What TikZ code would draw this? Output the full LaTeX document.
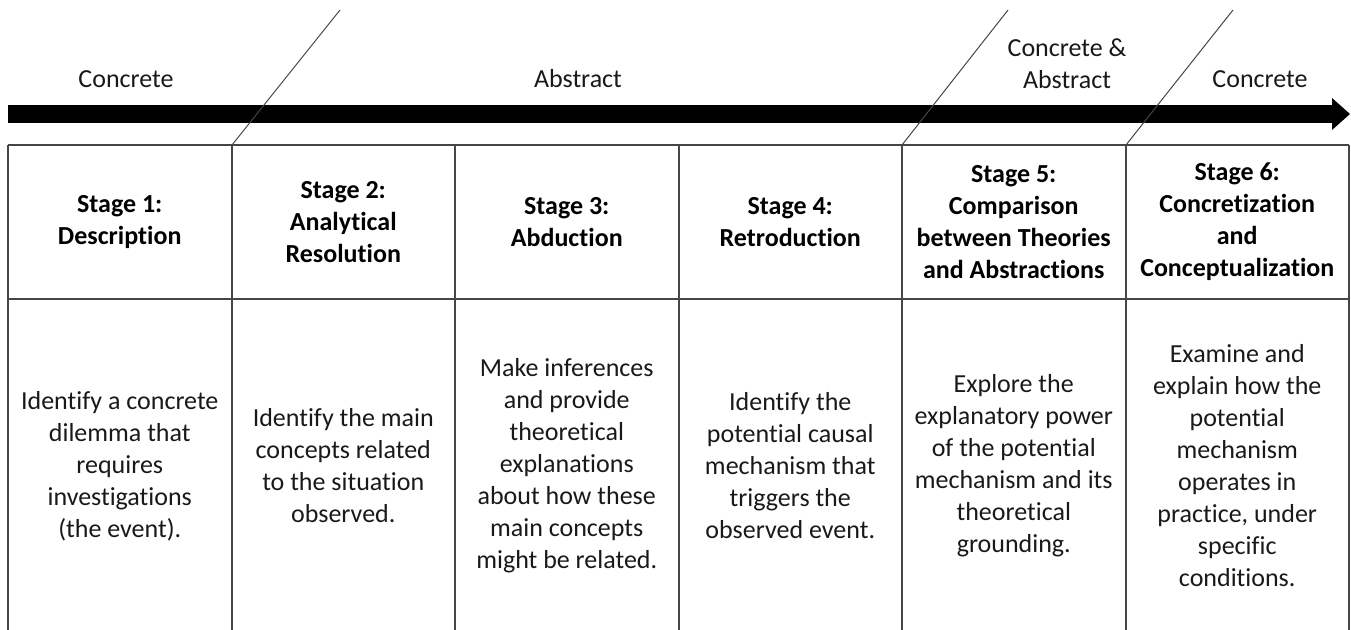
\documentclass[tikz,border=0pt]{standalone}
\usepackage{fontspec}
\setmainfont[Ligatures=NoCommon]{Carlito}
\usetikzlibrary{arrows.meta,positioning,calc}
\definecolor{GRID-GRAY}{RGB}{70, 70, 70}
\definecolor{TEXT-DARK}{RGB}{25, 25, 25}

\tikzset{
  phase/.style={font=\fontsize{13}{16}\selectfont, text=TEXT-DARK, align=center, inner sep=0pt},
  stagehead/.style={phase, font=\fontsize{13}{16}\selectfont\bfseries, text=black},
  stagebody/.style={phase},
  grid/.style={GRID-GRAY, line width=1pt},
  divider/.style={GRID-GRAY, line width=0.5pt},
}

\begin{document}
\begin{tikzpicture}[x=0.5pt,y=-0.5pt]
  \useasboundingbox (0,0) rectangle (1351,630);

  % Timeline arrow
  \coordinate (tl-start) at (8,114);
  \coordinate (tl-end) at (1350,114);
  \draw[line width=9pt, -{Triangle[length=9pt, width=16pt, line width=0pt]}] (tl-start) -- (tl-end);

  % Phase labels above the arrow
  \node[phase] (ph-concrete) at (126,79) {Concrete};
  \node[phase] (ph-abstract) at (578,79) {Abstract};
  \node[phase] (ph-mixed) at (1067,64) {Concrete \&\\Abstract};
  \node[phase] (ph-concrete-end) at (1260,79) {Concrete};

  % Phase dividers
  \coordinate (d1-low) at (232,145);  \coordinate (d1-high) at (340,10);
  \coordinate (d2-low) at (902,145);  \coordinate (d2-high) at (1008,10);
  \coordinate (d3-low) at (1126,145); \coordinate (d3-high) at (1233,10);
  \draw[divider] (d1-low) -- (d1-high);
  \draw[divider] (d2-low) -- (d2-high);
  \draw[divider] (d3-low) -- (d3-high);

  % Table rules
  \draw[grid] (8,145) -- (1349,145);
  \draw[grid] (8,299) -- (1349,299);
  \foreach \i in {0,...,6}
    \draw[grid] ({8+223.5*\i},145) -- ({8+223.5*\i},630);

  % Stage headings
  \node[stagehead] (h1) at (119.75,222) {Stage 1:\\Description};
  \node[stagehead] (h2) at (343.25,222) {Stage 2:\\Analytical\\Resolution};
  \node[stagehead] (h3) at (566.75,222) {Stage 3:\\Abduction};
  \node[stagehead] (h4) at (790.25,222) {Stage 4:\\Retroduction};
  \node[stagehead] (h5) at (1013.75,222) {Stage 5:\\Comparison\\between Theories\\and Abstractions};
  \node[stagehead] (h6) at (1237.25,222) {Stage 6:\\Concretization\\and\\Conceptualization};

  % Stage descriptions
  \node[stagebody] (b1) at (119.75,466) {Identify a concrete\\dilemma that\\requires\\investigations\\(the event).};
  \node[stagebody] (b2) at (343.25,466) {Identify the main\\concepts related\\to the situation\\observed.};
  \node[stagebody] (b3) at (566.75,466) {Make inferences\\and provide\\theoretical\\explanations\\about how these\\main concepts\\might be related.};
  \node[stagebody] (b4) at (790.25,466) {Identify the\\potential causal\\mechanism that\\triggers the\\observed event.};
  \node[stagebody] (b5) at (1013.75,466) {Explore the\\explanatory power\\of the potential\\mechanism and its\\theoretical\\grounding.};
  \node[stagebody] (b6) at (1237.25,466) {Examine and\\explain how the\\potential\\mechanism\\operates in\\practice, under\\specific\\conditions.};
\end{tikzpicture}
\end{document}
